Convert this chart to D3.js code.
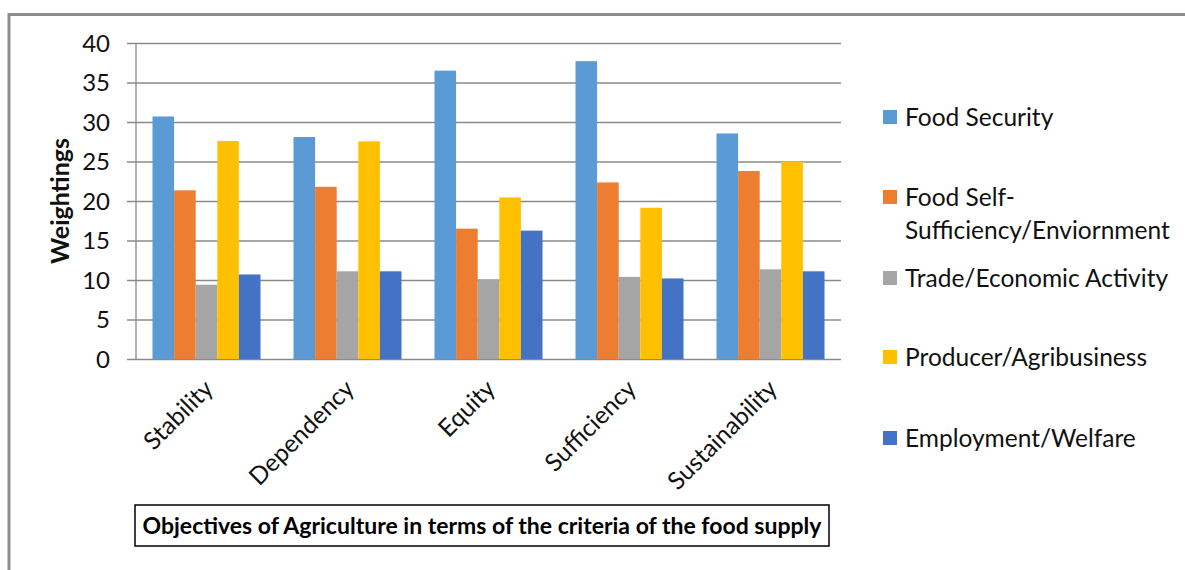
<!DOCTYPE html>
<html>
<head>
<meta charset="utf-8">
<script src="https://cdn.jsdelivr.net/npm/d3@7"></script>
<style>
  html, body { margin: 0; padding: 0; background: #fff; }
  svg { display: block; font-family: Lato, "Open Sans", sans-serif; }
</style>
</head>
<body>
<svg id="chart" width="1185" height="570"></svg>
<script>
const categories = ["Stability", "Dependency", "Equity", "Sufficiency", "Sustainability"];
const seriesNames = ["Food Security", "Food Self-Sufficiency/Enviornment", "Trade/Economic Activity", "Producer/Agribusiness", "Employment/Welfare"];
const legendLines = [["Food Security"], ["Food Self-", "Sufficiency/Enviornment"], ["Trade/Economic Activity"], ["Producer/Agribusiness"], ["Employment/Welfare"]];
const foodSecurity    = [30.7, 28.1, 36.5, 37.7, 28.55];
const selfSufficiency = [21.35, 21.8, 16.5, 22.35, 23.8];
const trade           = [9.4, 11.1, 10.1, 10.4, 11.35];
const producer        = [27.6, 27.55, 20.45, 19.15, 25.0];
const employment      = [10.7, 11.1, 16.25, 10.2, 11.1];
const seriesValues = [foodSecurity, selfSufficiency, trade, producer, employment];
const colors = ["#5B9BD5", "#ED7D31", "#A5A5A5", "#FFC000", "#4472C4"];
const yTicks = [0, 5, 10, 15, 20, 25, 30, 35, 40];
const yTitle = "Weightings";
const chartTitle = "Objectives of Agriculture in terms of the criteria of the food supply";

const svg = d3.select("#chart");

// outer frame (partial, grey)
svg.append("path")
  .attr("d", "M9,570 L9,14.5 L1185,14.5")
  .attr("fill", "none").attr("stroke", "#8c8c8c").attr("stroke-width", 3);

const plot = { left: 136, right: 841, top: 43, bottom: 359 };

const x = d3.scaleBand().domain(categories).range([plot.left, plot.right])
  .paddingInner(0.234).paddingOuter(0.117);
const xs = d3.scaleBand().domain(d3.range(seriesNames.length)).range([0, x.bandwidth()]).padding(0);
const y = d3.scaleLinear().domain([0, 40]).range([plot.bottom, plot.top]);

// gridlines
const gGrid = svg.append("g").attr("transform", `translate(${plot.right},0)`);
gGrid.call(d3.axisLeft(y).tickValues(yTicks).tickSize(plot.right - plot.left + 9).tickFormat(""));
gGrid.select(".domain").remove();
gGrid.selectAll(".tick line").attr("stroke", "#8a8a8a").attr("stroke-width", 1.3);

// vertical axis line
svg.append("line").attr("x1", plot.left).attr("x2", plot.left)
  .attr("y1", y(40)).attr("y2", y(0)).attr("stroke", "#8a8a8a").attr("stroke-width", 1.3);

// tick labels
svg.append("g").selectAll("text").data(yTicks).join("text")
  .attr("x", 110).attr("y", d => y(d)).attr("dy", "0.36em")
  .attr("text-anchor", "end").attr("font-size", 24).attr("fill", "#111")
  .text(d => d);

// bars
const groups = svg.append("g").selectAll("g").data(categories).join("g")
  .attr("transform", d => `translate(${x(d)},0)`);
groups.selectAll("rect").data((c, ci) => seriesValues.map((s, si) => ({ si, v: s[ci] }))).join("rect")
  .attr("x", d => xs(d.si)).attr("width", xs.bandwidth())
  .attr("y", d => y(d.v)).attr("height", d => y(0) - y(d.v))
  .attr("fill", d => colors[d.si]);

// y title
svg.append("text").attr("transform", "translate(60,201) rotate(-90)")
  .attr("text-anchor", "middle").attr("dy", "0.36em")
  .attr("font-weight", "bold").attr("font-size", 25).attr("fill", "#111")
  .text(yTitle);

// x labels
svg.append("g").selectAll("text").data(categories).join("text")
  .attr("transform", d => `translate(${x(d) + x.bandwidth() / 2 + 2},${plot.bottom + 25}) rotate(-45)`)
  .attr("text-anchor", "end").attr("dy", "0.36em")
  .attr("font-size", 24.5).attr("fill", "#111")
  .text(d => d);

// legend
const legendY = [117, 197, 278, 357, 438];
const lg = svg.append("g").selectAll("g").data(seriesNames).join("g")
  .attr("transform", (d, i) => `translate(883,${legendY[i]})`);
lg.append("rect").attr("x", 0).attr("y", -7).attr("width", 14).attr("height", 14)
  .attr("fill", (d, i) => colors[i]);
lg.append("text").attr("x", 22).attr("font-size", 24.5).attr("fill", "#111")
  .selectAll("tspan").data((d, i) => legendLines[i]).join("tspan")
  .attr("x", 22).attr("y", (d, j) => j * 33).attr("dy", "0.36em")
  .text(d => d);

// title box
svg.append("rect").attr("x", 135).attr("y", 505).attr("width", 694).attr("height", 41)
  .attr("fill", "#fff").attr("stroke", "#000").attr("stroke-width", 1.5);
svg.append("text").attr("x", 482).attr("y", 525.5).attr("dy", "0.36em")
  .attr("text-anchor", "middle").attr("font-weight", "bold").attr("font-size", 23).attr("fill", "#000")
  .text(chartTitle);
</script>
</body>
</html>
